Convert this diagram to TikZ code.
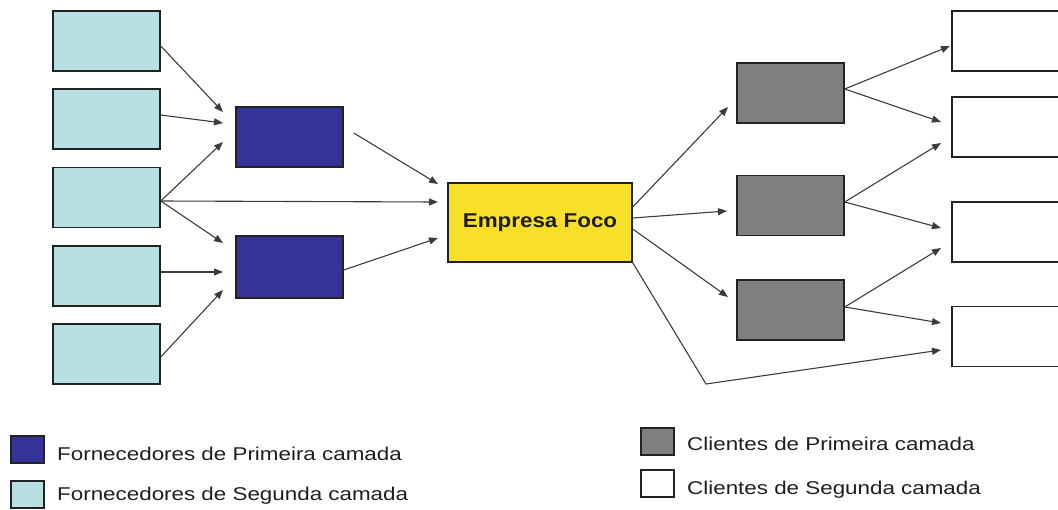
\documentclass[tikz,border=0pt]{standalone}
\usepackage{fontspec}
\usepackage{graphicx}
\setmainfont{Liberation Sans}
\usetikzlibrary{arrows.meta}
\definecolor{lightc}{HTML}{B8DFE2}
\definecolor{darkb}{HTML}{333399}
\definecolor{yell}{HTML}{F8E02A}
\definecolor{grayc}{HTML}{808080}
\definecolor{linec}{HTML}{222222}
\definecolor{arrc}{HTML}{3C3C3C}
\definecolor{txtc}{HTML}{1E1E1E}
\tikzset{
  box/.style={draw=linec, line width=1.5pt, inner sep=0pt, minimum width=107pt, minimum height=60pt},
  secsup/.style={box, fill=lightc},
  prisup/.style={box, fill=darkb},
  focus/.style={box, fill=yell, minimum width=184pt, minimum height=79pt},
  pricli/.style={box, fill=grayc},
  seccli/.style={box, fill=white},
  legbox/.style={draw=linec, line width=1.5pt, inner sep=0pt, minimum width=33pt, minimum height=27pt},
  legtxt/.style={anchor=base west, inner sep=0pt, text=txtc, font=\fontsize{18.5}{22}\selectfont},
  arr/.style={draw=arrc, line width=1.1pt, -{Triangle[length=9pt,width=7pt]}},
}
\begin{document}
\begin{tikzpicture}[x=1pt,y=-1pt]
\useasboundingbox (0,0) rectangle (1058,509);
% second tier suppliers
\node[secsup] (L1) at (106.5,41) {};
\node[secsup] (L2) at (106.5,119) {};
\node[secsup] (L3) at (106.5,197.5) {};
\node[secsup] (L4) at (106.5,276) {};
\node[secsup] (L5) at (106.5,354) {};
% first tier suppliers
\node[prisup] (D1) at (289.5,137) {};
\node[prisup, minimum height=62pt] (D2) at (289.5,267) {};
% focus
\node[focus] (Y) at (540,222.5) {\scalebox{1.12}[1]{\fontsize{20}{24}\selectfont\bfseries\color{txtc}Empresa Foco}};
% first tier clients
\node[pricli] (G1) at (790.5,93) {};
\node[pricli] (G2) at (790.5,205.5) {};
\node[pricli] (G3) at (790.5,310) {};
% second tier clients
\node[seccli] (W1) at (1005.5,41) {};
\node[seccli] (W2) at (1005.5,127) {};
\node[seccli] (W3) at (1005.5,232) {};
\node[seccli] (W4) at (1005.5,336.5) {};
% arrow targets
\coordinate (t1) at (223,112);
\coordinate (t2) at (223,123);
\coordinate (t3) at (223,142);
\coordinate (t4) at (223,243);
\coordinate (t5) at (223,272);
\coordinate (t6) at (223,290);
\coordinate (y1) at (438,184);
\coordinate (y2) at (438,202);
\coordinate (y3) at (438,238);
\coordinate (g1) at (728,107);
\coordinate (g2) at (727,211);
\coordinate (g3) at (728,297);
\coordinate (bend) at (706,384);
\coordinate (w0) at (950,46);
\coordinate (w1) at (941,122);
\coordinate (w2) at (941,143);
\coordinate (w3) at (941,228);
\coordinate (w4) at (941,248);
\coordinate (w5) at (941,323);
\coordinate (w6) at (941,350);
% left connectors
\draw[arr] ([yshift=-5pt]L1.east) -- (t1);
\draw[arr] ([yshift=4pt]L2.east) -- (t2);
\draw[arr] ([yshift=-3.5pt]L3.east) -- (t3);
\draw[arr] ([yshift=-3.5pt]L3.east) -- (y2);
\draw[arr] ([yshift=-3.5pt]L3.east) -- (t4);
\draw[arr] ([yshift=4pt]L4.east) -- (t5);
\draw[arr] ([yshift=-3pt]L5.east) -- (t6);
\draw[arr] ([xshift=10pt,yshift=4pt]D1.east) -- (y1);
\draw[arr] ([yshift=-3pt]D2.east) -- (y3);
% right connectors
\draw[arr] ([yshift=15.5pt]Y.east) -- (g1);
\draw[arr] ([yshift=4.5pt]Y.east) -- (g2);
\draw[arr] ([yshift=-6.5pt]Y.east) -- (g3);
\draw[arr] (Y.south east) -- (bend) -- (w6);
\draw[arr] ([yshift=4pt]G1.east) -- (w0);
\draw[arr] ([yshift=4pt]G1.east) -- (w1);
\draw[arr] ([yshift=3.5pt]G2.east) -- (w2);
\draw[arr] ([yshift=3.5pt]G2.east) -- (w3);
\draw[arr] ([yshift=3pt]G3.east) -- (w4);
\draw[arr] ([yshift=3pt]G3.east) -- (w5);
% legend
\node[legbox, fill=darkb] (K1) at (27.5,449.5) {};
\node[legbox, fill=lightc] (K2) at (27.5,494.5) {};
\node[legbox, fill=grayc] (K3) at (657.5,441.5) {};
\node[legbox, fill=white] (K4) at (657.5,483.5) {};
\node[legtxt] (T1) at (57,460) {\scalebox{1.21}[1]{Fornecedores de Primeira camada}};
\node[legtxt] (T2) at (57,500) {\scalebox{1.21}[1]{Fornecedores de Segunda camada}};
\node[legtxt] (T3) at (687,450) {\scalebox{1.21}[1]{Clientes de Primeira camada}};
\node[legtxt] (T4) at (687,494) {\scalebox{1.21}[1]{Clientes de Segunda camada}};
\end{tikzpicture}
\end{document}
